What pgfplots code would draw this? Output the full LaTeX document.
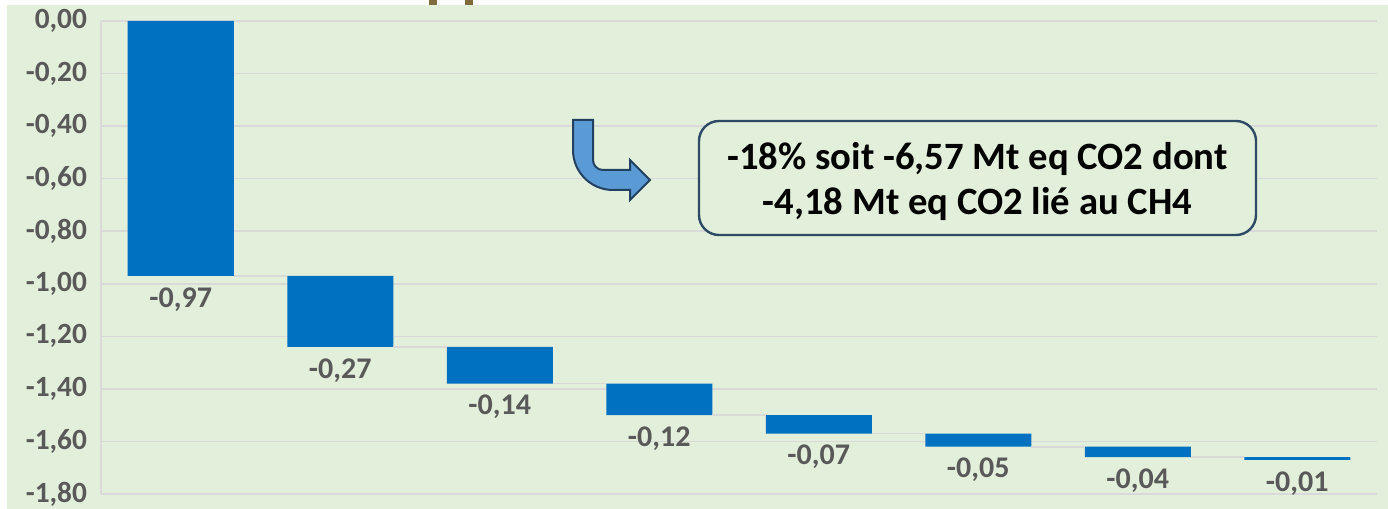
\documentclass[border=0pt]{standalone}
\usepackage{fontspec}
\setmainfont{Carlito}
\usepackage{pgfplots}
\pgfplotsset{compat=1.18}
\usepackage{pgfplotstable}

\definecolor{bggreen}{HTML}{E2EFDA}
\definecolor{barblue}{HTML}{0070C0}
\definecolor{gridgray}{HTML}{D9D9D9}
\definecolor{labelgray}{HTML}{595959}
\definecolor{arrowfill}{HTML}{5B9BD5}
\definecolor{arrowedge}{HTML}{22405F}
\definecolor{boxedge}{HTML}{2E4B66}
\definecolor{titlebrown}{HTML}{7F6B3B}

% waterfall steps: starting level, change and resulting level of each step
\pgfplotstableread{
x top delta end
0 0.00 -0.97 -0.97
1 -0.97 -0.27 -1.24
2 -1.24 -0.14 -1.38
3 -1.38 -0.12 -1.50
4 -1.50 -0.07 -1.57
5 -1.57 -0.05 -1.62
6 -1.62 -0.04 -1.66
7 -1.66 -0.01 -1.67
}\steps

% connector segments between consecutive bars
\pgfplotstableread{
x y
0.3323 -0.97
0.6677 -0.97
1 nan
1.3323 -1.24
1.6677 -1.24
2 nan
2.3323 -1.38
2.6677 -1.38
3 nan
3.3323 -1.50
3.6677 -1.50
4 nan
4.3323 -1.57
4.6677 -1.57
5 nan
5.3323 -1.62
5.6677 -1.62
6 nan
6.3323 -1.66
6.6677 -1.66
}\links

\pgfplotsset{
  panel/.style={
    at={(75.75pt,-370.5pt)}, anchor=south west,
    scale only axis, width=957pt, height=354.75pt,
    xmin=-0.5, xmax=7.5, ymin=-1.8, ymax=0,
  },
}

\begin{document}
\begin{tikzpicture}[x=0.75pt,y=-0.75pt]
\useasboundingbox (0,0) rectangle (1388,509);
\fill[white] (0,0) rectangle (1388,509);
\fill[bggreen] (7,5) rectangle (1388,509);
% descenders of the heading above the panel
\fill[titlebrown] (429,0) rectangle (437,5);
\fill[titlebrown] (465,0) rectangle (473,5);

\begin{axis}[
  panel,
  ybar stacked, bar width=79.5pt,
  xtick=\empty,
  ytick={-1.8,-1.6,-1.4,-1.2,-1.0,-0.8,-0.6,-0.4,-0.2,0},
  scaled y ticks=false,
  axis x line=none,
  axis y line*=left,
  y axis line style={gridgray, line width=1.2pt, -},
  major tick length=0pt,
  ymajorgrids,
  grid style={gridgray, line width=1.2pt},
  yticklabel style={
    font=\fontsize{22}{26}\selectfont\bfseries, text=labelgray,
    anchor=east, xshift=-7pt,
    /pgf/number format/.cd, fixed, fixed zerofill, precision=2,
    use comma, assume math mode=true},
  clip=false,
]
\addplot[draw=none, fill=none] table[x=x, y=top]{\steps};
\addplot[fill=barblue, draw=none] table[x=x, y=delta]{\steps};
\end{axis}

\begin{axis}[panel, hide axis, unbounded coords=jump, clip=false]
\addplot[gridgray, line width=1.2pt, no marks] table[x=x, y=y]{\links};
% value labels under the end of each bar
\addplot[draw=none, mark=none, point meta=explicit,
  nodes near coords={\bfseries\pgfmathprintnumber[fixed, fixed zerofill,
    precision=2, use comma, assume math mode=true]{\pgfplotspointmeta}},
  nodes near coords style={
    font=\fontsize{22.5}{26}\selectfont\bfseries, text=labelgray,
    anchor=north, inner sep=0pt, yshift=-8.5pt},
] table[x=x, y=end, meta=delta]{\steps};
\end{axis}

% bent arrow pointing to the summary box
\filldraw[fill=arrowfill, draw=arrowedge, line width=1.5pt, line join=miter]
  (573,120) -- (593,120) -- (593,160)
  arc[start angle=180, end angle=90, radius=10]
  -- (630,170) -- (630,160) -- (650,180) -- (630,200) -- (630,190)
  -- (613,190) arc[start angle=90, end angle=180, radius=40] -- cycle;

% summary box
\filldraw[fill=bggreen, draw=boxedge, line width=1.8pt, rounded corners=15pt]
  (699,121) rectangle (1256,235);
\node[anchor=base, font=\fontsize{29}{34}\selectfont\bfseries]
  at (977.5,170) {-18\% soit -6,57 Mt eq CO2 dont};
\node[anchor=base, font=\fontsize{29}{34}\selectfont\bfseries]
  at (977.5,215) {-4,18 Mt eq CO2 lié au CH4};
\end{tikzpicture}
\end{document}
